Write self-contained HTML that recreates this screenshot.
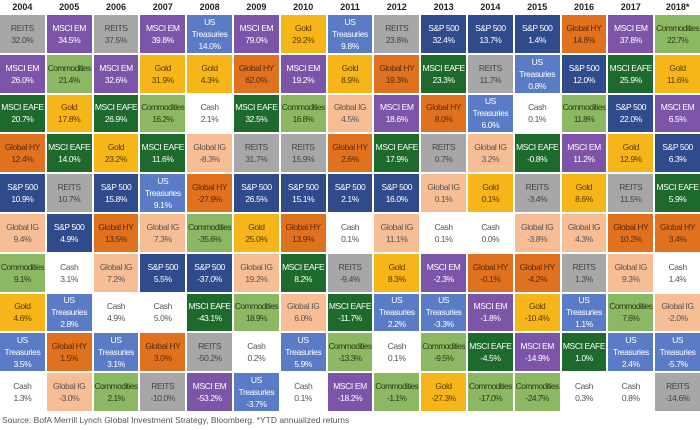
<!DOCTYPE html>
<html><head><meta charset="utf-8"><style>
*{margin:0;padding:0;box-sizing:border-box}
body{width:700px;height:430px;background:#fff;font-family:"Liberation Sans",sans-serif;position:relative;overflow:hidden}
.hd{position:absolute;top:0;left:0;width:700px;height:14px;display:grid;grid-template-columns:repeat(15,minmax(0,1fr));column-gap:2px;font-size:9px;font-weight:bold;color:#222;text-align:center;line-height:14px}
.g{position:absolute;top:15px;left:0;width:700px;height:396px;display:grid;grid-template-columns:repeat(15,minmax(0,1fr));grid-template-rows:repeat(10,minmax(0,1fr));grid-auto-flow:column;gap:2px}
.g div{display:flex;flex-direction:column;align-items:center;justify-content:center;text-align:center;font-size:8.5px;line-height:12px;letter-spacing:-0.4px;overflow:hidden;white-space:nowrap;min-width:0}
.g div.c{letter-spacing:-0.6px}
.r{background:#a7a7a9;color:#444}
.e{background:#7d55a8;color:#fff}
.f{background:#1d6a2c;color:#fff}
.h{background:#e0711f;color:#5a2a08}
.s{background:#2f4b8c;color:#fff}
.i{background:#f7bd94;color:#555}
.c{background:#8db863;color:#2a3a18}
.o{background:#f6b518;color:#5a3a00}
.t{background:#5a7bc6;color:#fff}
.k{background:#fff;color:#555}
.src{position:absolute;left:2px;top:415px;font-size:8.5px;color:#555}
</style></head><body>
<div class="hd"><span>2004</span><span>2005</span><span>2006</span><span>2007</span><span>2008</span><span>2009</span><span>2010</span><span>2011</span><span>2012</span><span>2013</span><span>2014</span><span>2015</span><span>2016</span><span>2017</span><span>2018*</span></div>
<div class="g">
<div class="r">REITS<br>32.0%</div><div class="e">MSCI EM<br>26.0%</div><div class="f">MSCI EAFE<br>20.7%</div><div class="h">Global HY<br>12.4%</div><div class="s">S&amp;P 500<br>10.9%</div><div class="i">Global IG<br>9.4%</div><div class="c">Commodities<br>9.1%</div><div class="o">Gold<br>4.6%</div><div class="t">US<br>Treasuries<br>3.5%</div><div class="k">Cash<br>1.3%</div>
<div class="e">MSCI EM<br>34.5%</div><div class="c">Commodities<br>21.4%</div><div class="o">Gold<br>17.8%</div><div class="f">MSCI EAFE<br>14.0%</div><div class="r">REITS<br>10.7%</div><div class="s">S&amp;P 500<br>4.9%</div><div class="k">Cash<br>3.1%</div><div class="t">US<br>Treasuries<br>2.8%</div><div class="h">Global HY<br>1.5%</div><div class="i">Global IG<br>-3.0%</div>
<div class="r">REITS<br>37.5%</div><div class="e">MSCI EM<br>32.6%</div><div class="f">MSCI EAFE<br>26.9%</div><div class="o">Gold<br>23.2%</div><div class="s">S&amp;P 500<br>15.8%</div><div class="h">Global HY<br>13.5%</div><div class="i">Global IG<br>7.2%</div><div class="k">Cash<br>4.9%</div><div class="t">US<br>Treasuries<br>3.1%</div><div class="c">Commodities<br>2.1%</div>
<div class="e">MSCI EM<br>39.8%</div><div class="o">Gold<br>31.9%</div><div class="c">Commodities<br>16.2%</div><div class="f">MSCI EAFE<br>11.6%</div><div class="t">US<br>Treasuries<br>9.1%</div><div class="i">Global IG<br>7.3%</div><div class="s">S&amp;P 500<br>5.5%</div><div class="k">Cash<br>5.0%</div><div class="h">Global HY<br>3.0%</div><div class="r">REITS<br>-10.0%</div>
<div class="t">US<br>Treasuries<br>14.0%</div><div class="o">Gold<br>4.3%</div><div class="k">Cash<br>2.1%</div><div class="i">Global IG<br>-8.3%</div><div class="h">Global HY<br>-27.9%</div><div class="c">Commodities<br>-35.6%</div><div class="s">S&amp;P 500<br>-37.0%</div><div class="f">MSCI EAFE<br>-43.1%</div><div class="r">REITS<br>-50.2%</div><div class="e">MSCI EM<br>-53.2%</div>
<div class="e">MSCI EM<br>79.0%</div><div class="h">Global HY<br>62.0%</div><div class="f">MSCI EAFE<br>32.5%</div><div class="r">REITS<br>31.7%</div><div class="s">S&amp;P 500<br>26.5%</div><div class="o">Gold<br>25.0%</div><div class="i">Global IG<br>19.2%</div><div class="c">Commodities<br>18.9%</div><div class="k">Cash<br>0.2%</div><div class="t">US<br>Treasuries<br>-3.7%</div>
<div class="o">Gold<br>29.2%</div><div class="e">MSCI EM<br>19.2%</div><div class="c">Commodities<br>16.8%</div><div class="r">REITS<br>15.9%</div><div class="s">S&amp;P 500<br>15.1%</div><div class="h">Global HY<br>13.9%</div><div class="f">MSCI EAFE<br>8.2%</div><div class="i">Global IG<br>6.0%</div><div class="t">US<br>Treasuries<br>5.9%</div><div class="k">Cash<br>0.1%</div>
<div class="t">US<br>Treasuries<br>9.8%</div><div class="o">Gold<br>8.9%</div><div class="i">Global IG<br>4.5%</div><div class="h">Global HY<br>2.6%</div><div class="s">S&amp;P 500<br>2.1%</div><div class="k">Cash<br>0.1%</div><div class="r">REITS<br>-9.4%</div><div class="f">MSCI EAFE<br>-11.7%</div><div class="c">Commodities<br>-13.3%</div><div class="e">MSCI EM<br>-18.2%</div>
<div class="r">REITS<br>23.8%</div><div class="h">Global HY<br>19.3%</div><div class="e">MSCI EM<br>18.6%</div><div class="f">MSCI EAFE<br>17.9%</div><div class="s">S&amp;P 500<br>16.0%</div><div class="i">Global IG<br>11.1%</div><div class="o">Gold<br>8.3%</div><div class="t">US<br>Treasuries<br>2.2%</div><div class="k">Cash<br>0.1%</div><div class="c">Commodities<br>-1.1%</div>
<div class="s">S&amp;P 500<br>32.4%</div><div class="f">MSCI EAFE<br>23.3%</div><div class="h">Global HY<br>8.0%</div><div class="r">REITS<br>0.7%</div><div class="i">Global IG<br>0.1%</div><div class="k">Cash<br>0.1%</div><div class="e">MSCI EM<br>-2.3%</div><div class="t">US<br>Treasuries<br>-3.3%</div><div class="c">Commodities<br>-9.5%</div><div class="o">Gold<br>-27.3%</div>
<div class="s">S&amp;P 500<br>13.7%</div><div class="r">REITS<br>11.7%</div><div class="t">US<br>Treasuries<br>6.0%</div><div class="i">Global IG<br>3.2%</div><div class="o">Gold<br>0.1%</div><div class="k">Cash<br>0.0%</div><div class="h">Global HY<br>-0.1%</div><div class="e">MSCI EM<br>-1.8%</div><div class="f">MSCI EAFE<br>-4.5%</div><div class="c">Commodities<br>-17.0%</div>
<div class="s">S&amp;P 500<br>1.4%</div><div class="t">US<br>Treasuries<br>0.8%</div><div class="k">Cash<br>0.1%</div><div class="f">MSCI EAFE<br>-0.8%</div><div class="r">REITS<br>-3.4%</div><div class="i">Global IG<br>-3.8%</div><div class="h">Global HY<br>-4.2%</div><div class="o">Gold<br>-10.4%</div><div class="e">MSCI EM<br>-14.9%</div><div class="c">Commodities<br>-24.7%</div>
<div class="h">Global HY<br>14.8%</div><div class="s">S&amp;P 500<br>12.0%</div><div class="c">Commodities<br>11.8%</div><div class="e">MSCI EM<br>11.2%</div><div class="o">Gold<br>8.6%</div><div class="i">Global IG<br>4.3%</div><div class="r">REITS<br>1.3%</div><div class="t">US<br>Treasuries<br>1.1%</div><div class="f">MSCI EAFE<br>1.0%</div><div class="k">Cash<br>0.3%</div>
<div class="e">MSCI EM<br>37.8%</div><div class="f">MSCI EAFE<br>25.9%</div><div class="s">S&amp;P 500<br>22.0%</div><div class="o">Gold<br>12.9%</div><div class="r">REITS<br>11.5%</div><div class="h">Global HY<br>10.2%</div><div class="i">Global IG<br>9.3%</div><div class="c">Commodities<br>7.6%</div><div class="t">US<br>Treasuries<br>2.4%</div><div class="k">Cash<br>0.8%</div>
<div class="c">Commodities<br>22.7%</div><div class="o">Gold<br>11.6%</div><div class="e">MSCI EM<br>6.5%</div><div class="s">S&amp;P 500<br>6.3%</div><div class="f">MSCI EAFE<br>5.9%</div><div class="h">Global HY<br>3.4%</div><div class="k">Cash<br>1.4%</div><div class="i">Global IG<br>-2.0%</div><div class="t">US<br>Treasuries<br>-5.7%</div><div class="r">REITS<br>-14.6%</div>
</div>
<div class="src">Source: BofA Merrill Lynch Global Investment Strategy, Bloomberg. *YTD annualized returns</div>
</body></html>
